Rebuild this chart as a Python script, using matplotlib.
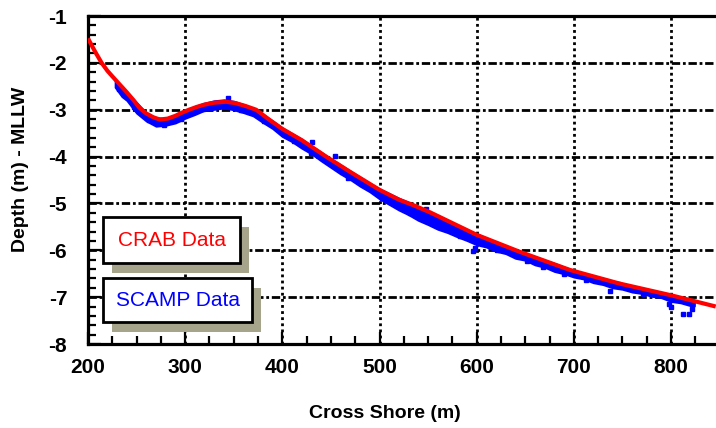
import matplotlib
matplotlib.use("Agg")
import matplotlib.pyplot as plt
from matplotlib.patches import Rectangle
from matplotlib.ticker import MultipleLocator

# CRAB survey profile (red line)
crab_x = [200, 207, 214, 220, 226, 233, 240, 247, 253, 260, 267, 274, 282, 290,
          297, 304, 312, 320, 330, 342, 352, 362, 373, 387, 400, 420, 445, 470,
          500, 520, 534, 552, 600, 644, 696, 747, 800, 846]
crab_y = [-1.48, -1.75, -2.00, -2.17, -2.31, -2.47, -2.63, -2.80, -2.96, -3.08,
          -3.16, -3.21, -3.19, -3.13, -3.06, -3.00, -2.94, -2.89, -2.85, -2.83,
          -2.86, -2.92, -3.00, -3.22, -3.41, -3.65, -4.00, -4.33, -4.71, -4.92,
          -5.03, -5.19, -5.67, -6.03, -6.42, -6.71, -6.96, -7.20]

# SCAMP data band (upper / lower edge of the blue points)
scamp_x = [228, 235, 240, 250, 260, 270, 280, 290, 300, 310, 320, 330, 340, 350,
           360, 370, 380, 390, 400, 410, 420, 430, 440, 450, 460, 470, 480, 490,
           500, 510, 520, 530, 540, 550, 560, 570, 580, 590, 600, 610, 620, 630,
           640, 650, 660, 670, 680, 690, 700, 710, 720, 730, 740, 750, 760, 770,
           780, 790, 800, 810, 820, 824]
scamp_top = [-2.37, -2.50, -2.63, -2.85, -3.07, -3.17, -3.19, -3.11, -3.02, -2.93,
             -2.86, -2.81, -2.79, -2.82, -2.89, -2.97, -3.10, -3.24, -3.39, -3.51,
             -3.63, -3.77, -3.91, -4.05, -4.18, -4.31, -4.44, -4.57, -4.69, -4.79,
             -4.89, -4.98, -5.07, -5.16, -5.26, -5.36, -5.46, -5.56, -5.65, -5.74,
             -5.83, -5.91, -5.99, -6.06, -6.14, -6.21, -6.28, -6.36, -6.43, -6.49,
             -6.55, -6.60, -6.66, -6.71, -6.76, -6.81, -6.86, -6.90, -6.95, -7.01,
             -7.06, -7.08]
scamp_bot = [-2.52, -2.72, -2.80, -3.07, -3.24, -3.35, -3.33, -3.28, -3.18, -3.10,
             -3.01, -2.99, -2.96, -3.00, -3.06, -3.13, -3.27, -3.40, -3.57, -3.68,
             -3.82, -3.94, -4.09, -4.23, -4.37, -4.49, -4.63, -4.75, -4.90, -5.02,
             -5.14, -5.24, -5.36, -5.45, -5.55, -5.62, -5.71, -5.79, -5.88, -5.93,
             -6.02, -6.07, -6.17, -6.21, -6.31, -6.36, -6.45, -6.50, -6.57, -6.61,
             -6.69, -6.73, -6.80, -6.83, -6.89, -6.92, -6.98, -7.01, -7.09, -7.12,
             -7.18, -7.19]

# scattered SCAMP points off the main band
spike_x = [232, 247, 263, 278, 296, 318, 344, 357, 381, 395, 412, 430, 431, 454,
           468, 497, 503, 512, 531, 548, 563, 583, 596, 598, 621, 652, 668, 690,
           712, 737, 745, 771, 798, 800, 812, 818, 822]
spike_y = [-2.55, -2.95, -3.22, -3.33, -3.20, -2.99, -2.76, -3.00, -3.25, -3.40,
           -3.66, -3.93, -3.68, -3.99, -4.45, -4.78, -4.88, -4.98, -5.20, -5.11,
           -5.50, -5.70, -6.01, -5.95, -5.99, -6.22, -6.36, -6.50, -6.63, -6.87,
           -6.72, -6.93, -7.15, -7.22, -7.36, -7.37, -7.25]

xticks = [200, 300, 400, 500, 600, 700, 800]
yticks = [-8, -7, -6, -5, -4, -3, -2, -1]

plt.rcParams['axes.unicode_minus'] = False
sans = ['Liberation Sans', 'DejaVu Sans']

fig = plt.figure(figsize=(7.16, 4.28), dpi=100)
ax = fig.add_axes([88 / 716, 1 - 344 / 428, 628 / 716, 328 / 428])
ax.set_xlim(200, 846.3)
ax.set_ylim(-8, -1)

ax.grid(True, axis='x', color='black', linestyle=(0, (1, 1.2)), linewidth=2)
ax.grid(True, axis='y', color='black', linestyle=(0, (3, 1, 1, 1)), linewidth=2)
ax.set_axisbelow(True)

ax.fill_between(scamp_x, scamp_top, scamp_bot, color='#0000ff', linewidth=1.5,
                edgecolor='#0000ff', zorder=2)
ax.plot(spike_x, spike_y, 's', color='#0000ff', markersize=3, zorder=2)
ax.plot(crab_x, crab_y, color='#ff0000', linewidth=3, solid_capstyle='butt', zorder=3)

ax.set_xticks(xticks)
ax.set_yticks(yticks)
ax.xaxis.set_minor_locator(MultipleLocator(25))
ax.yaxis.set_minor_locator(MultipleLocator(0.2))
ax.tick_params(which='major', direction='in', length=9, width=1.6, color='black')
ax.tick_params(which='minor', direction='in', length=6, width=1.6, color='black')
ax.tick_params(axis='x', which='major', pad=10)
ax.tick_params(axis='y', which='major', pad=15)
for lab in ax.get_xticklabels() + ax.get_yticklabels():
    lab.set_family(sans)
    lab.set_fontweight('bold')
    lab.set_fontsize(15)

for side in ['left', 'top', 'bottom']:
    ax.spines[side].set_linewidth(2.3)
ax.spines['right'].set_visible(False)

fig.text(385 / 716, 1 - 413 / 428, 'Cross Shore (m)', family=sans, fontweight='bold',
         fontsize=14, ha='center', va='center')
fig.text(21 / 716, 1 - 169 / 428, 'Depth (m) - MLLW', family=sans, fontweight='bold',
         fontsize=14, ha='center', va='center', rotation=90)

# legend boxes with shadows
shadow = '#a6a48b'
boxes = [('CRAB Data', '#ff0000', 103, 217, 240, 263),
         ('SCAMP Data', '#0000ff', 103, 278, 252, 322)]
for label, col, l, t, r, b in boxes:
    x0 = (l - 88) / 628
    y0 = (344 - b) / 328
    w = (r - l) / 628
    h = (b - t) / 328
    ax.add_patch(Rectangle((x0 + 9 / 628, y0 - 10 / 328), w, h, transform=ax.transAxes,
                           facecolor=shadow, edgecolor='none', zorder=5))
    ax.add_patch(Rectangle((x0, y0), w, h, transform=ax.transAxes, facecolor='white',
                           edgecolor='black', linewidth=2, zorder=6))
    ax.text(x0 + w / 2, y0 + h / 2, label, transform=ax.transAxes, color=col,
            family=sans, fontsize=15, ha='center', va='center', zorder=7)

fig.savefig('out.png', dpi=100)
